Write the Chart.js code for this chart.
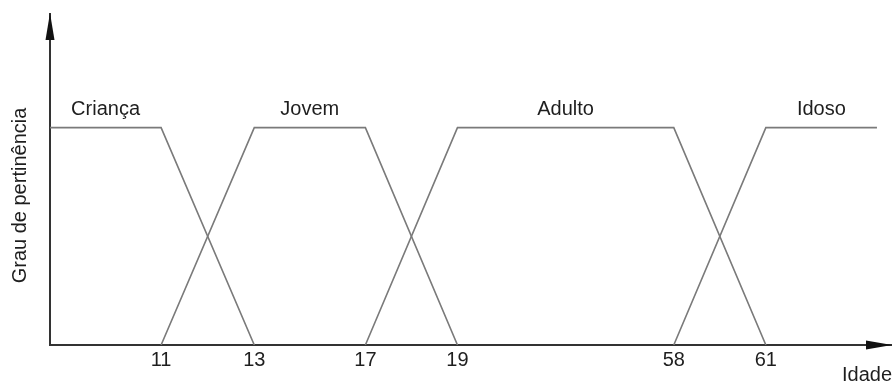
<!DOCTYPE html>
<html lang="pt">
<head>
    <meta charset="UTF-8">
    <title>Grau de pertinência por idade</title>
    <style>
        body { margin: 0; background: #fff; }
        #wrap { width: 894px; height: 381px; position: relative; }
    </style>
    <script src="https://cdn.jsdelivr.net/npm/chart.js"></script>
</head>
<body>
    <div id="wrap"><canvas id="myChart"></canvas></div>
    <script>
        // Fuzzy sets: name and the (age, membership) corners of each trapezoid
        const setNames = ['Criança', 'Jovem', 'Adulto', 'Idoso'];
        const crianca = [[0, 1], [11, 1], [13, 0]];
        const jovem = [[11, 0], [13, 1], [17, 1], [19, 0]];
        const adulto = [[17, 0], [19, 1], [58, 1], [61, 0]];
        const idoso = [[58, 0], [61, 1], [70, 1]];
        const tickAges = [11, 13, 17, 19, 58, 61];

        // The age axis is not drawn to scale: each break age sits at a fixed
        // fraction of the axis length, linear in between
        const axisAges = [0, 11, 13, 17, 19, 58, 61, 70, 72];
        const axisFrac = [0, 0.1321, 0.2429, 0.375, 0.4845, 0.7417, 0.8512, 0.9833, 1];

        function interp(v, xs, ys) {
            if (v <= xs[0]) return ys[0];
            for (let i = 1; i < xs.length; i++) {
                if (v <= xs[i]) {
                    const t = (v - xs[i - 1]) / (xs[i] - xs[i - 1]);
                    return ys[i - 1] + t * (ys[i] - ys[i - 1]);
                }
            }
            return ys[ys.length - 1];
        }

        class PiecewiseScale extends Chart.LinearScale {
            getPixelForValue(value) {
                return this.getPixelForDecimal(interp(value, axisAges, axisFrac));
            }
            getValueForPixel(pixel) {
                return interp(this.getDecimalForPixel(pixel), axisFrac, axisAges);
            }
        }
        PiecewiseScale.id = 'piecewise';
        PiecewiseScale.defaults = Chart.LinearScale.defaults;
        Chart.register(PiecewiseScale);

        const FONT = 'Liberation Sans, Arial, sans-serif';
        const TEXT = '#1e1e1e';

        // Arrowheads on both axes, set names over the plateaus, axis titles
        const decorations = {
            id: 'decorations',
            afterDraw(chart) {
                const ctx = chart.ctx;
                const a = chart.chartArea;
                const xs = chart.scales.x, ys = chart.scales.y;
                ctx.save();
                ctx.fillStyle = '#111';
                ctx.beginPath();
                ctx.moveTo(a.left, a.top - 1);
                ctx.lineTo(a.left - 4.5, a.top + 26);
                ctx.lineTo(a.left + 4.5, a.top + 26);
                ctx.closePath();
                ctx.fill();
                ctx.beginPath();
                ctx.moveTo(a.right + 1, a.bottom);
                ctx.lineTo(a.right - 25, a.bottom - 4.5);
                ctx.lineTo(a.right - 25, a.bottom + 4.5);
                ctx.closePath();
                ctx.fill();

                ctx.fillStyle = TEXT;
                ctx.font = '20px ' + FONT;
                ctx.textAlign = 'center';
                ctx.textBaseline = 'middle';
                chart.data.datasets.forEach((ds, i) => {
                    const top = ds.data.filter(p => p.y === 1);
                    const mid = (top[0].x + top[top.length - 1].x) / 2;
                    ctx.fillText(setNames[i], xs.getPixelForValue(mid), ys.getPixelForValue(1) - 18);
                });
                ctx.textAlign = 'right';
                ctx.fillText('Idade', chart.width - 2, a.bottom + 30);

                // vertical title sits a little below the middle of the axis
                ctx.save();
                ctx.translate(20, (a.top + a.bottom) / 2 + 16);
                ctx.rotate(-Math.PI / 2);
                ctx.textAlign = 'center';
                ctx.fillText('Grau de pertinência', 0, 0);
                ctx.restore();
                ctx.restore();
            }
        };

        const toPoints = arr => arr.map(p => ({ x: p[0], y: p[1] }));

        new Chart(document.getElementById('myChart'), {
            type: 'line',
            data: {
                datasets: [crianca, jovem, adulto, idoso].map((s, i) => ({
                    label: setNames[i],
                    data: toPoints(s),
                    borderColor: '#7a7a7a',
                    borderWidth: 1.6,
                    pointRadius: 0,
                    tension: 0,
                    fill: false
                }))
            },
            options: {
                responsive: true,
                maintainAspectRatio: false,
                animation: false,
                layout: { padding: { top: 14, right: 3, bottom: 6, left: 50 } },
                scales: {
                    x: {
                        type: 'piecewise',
                        min: 0,
                        max: 72,
                        grid: { display: false, drawTicks: false },
                        border: { color: '#333', width: 2 },
                        afterBuildTicks: scale => {
                            scale.ticks = tickAges.map(v => ({ value: v }));
                        },
                        ticks: {
                            autoSkip: false,
                            maxRotation: 0,
                            padding: 3,
                            color: TEXT,
                            font: { family: FONT, size: 20 },
                            callback: v => String(v)
                        }
                    },
                    y: {
                        min: 0,
                        max: 1.523,
                        grid: { display: false, drawTicks: false },
                        border: { color: '#333', width: 2 },
                        ticks: { display: false }
                    }
                },
                plugins: {
                    legend: { display: false },
                    tooltip: { enabled: false }
                }
            },
            plugins: [decorations]
        });
    </script>
</body>
</html>
